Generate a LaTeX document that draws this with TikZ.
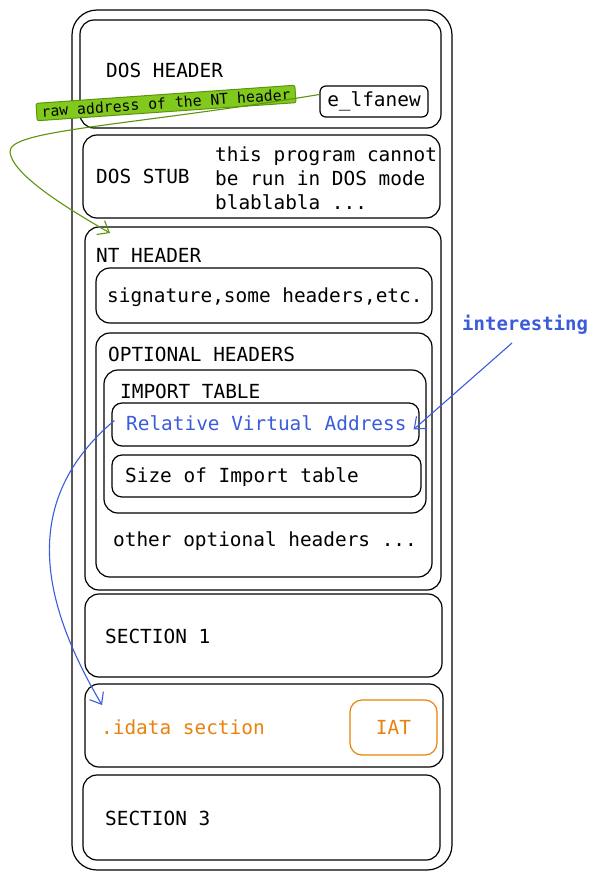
\documentclass[tikz,border=0pt]{standalone}
\usepackage{fontspec}
\setmonofont{DejaVu Sans Mono}
\usetikzlibrary{arrows.meta}
\definecolor{peblue}{HTML}{3B5BDB}
\definecolor{peorange}{HTML}{E8820C}
\definecolor{pegreen}{HTML}{82C91E}
\definecolor{pegreendark}{HTML}{5C940D}
\begin{document}
\begin{tikzpicture}[x=1pt,y=-1pt,
	blk/.style={draw,line width=1.2pt,rounded corners=14pt,inner sep=0pt},
	txt/.style={anchor=west,inner sep=0pt,font=\ttfamily\fontsize{19.4}{24}\selectfont},
	barb/.style={-{Straight Barb[length=10pt,width=16pt]},line width=1.1pt}]
		\useasboundingbox (0,0) rectangle (601,881);
		\node[blk,rounded corners=25pt,minimum width=380,minimum height=860] (file) at (262,440) {};
		\node[blk,minimum width=361,minimum height=108] (dosh) at (260.5,74) {};
		\node[blk,rounded corners=6pt,minimum width=108,minimum height=31] (elf) at (374,101.5) {};
		\node[blk,minimum width=357,minimum height=83] (stub) at (261.5,176.5) {};
		\node[blk,minimum width=356,minimum height=363] (nth) at (263,408.5) {};
		\node[blk,minimum width=336,minimum height=55] (sig) at (264,295.5) {};
		\node[blk,minimum width=336,minimum height=244] (opt) at (264,455) {};
		\node[blk,minimum width=322,minimum height=143] (imp) at (265,441.5) {};
		\node[blk,rounded corners=10pt,minimum width=307,minimum height=43] (rva) at (265.5,424.5) {};
		\node[blk,rounded corners=10pt,minimum width=309,minimum height=42] (size) at (266.5,476) {};
		\node[blk,minimum width=357,minimum height=83] (sec1) at (263.5,635.5) {};
		\node[blk,minimum width=358,minimum height=83] (idata) at (264,725.5) {};
		\node[blk,draw=peorange,rounded corners=12pt,minimum width=87,minimum height=55] (iat) at (393.5,727.5) {};
		\node[blk,minimum width=357,minimum height=85] (sec3) at (261.5,817.5) {};

		\node[txt] (doshtxt) at (106,70) {DOS HEADER};
		\node[txt,anchor=center] (elftxt) at (elf) {e\_lfanew};
		\node[txt] (stubtxt) at (96,176) {DOS STUB};
		\node[txt,align=left] (stubmsg) at (215,178) {this program cannot\\be run in DOS mode\\blablabla ...};
		\node[txt] (nthtxt) at (96,255) {NT HEADER};
		\node[txt] (sigtxt) at (107,297) {signature,some headers,etc.};
		\node[txt] (opttxt) at (108,354) {OPTIONAL HEADERS};
		\node[txt] (imptxt) at (120,391) {IMPORT TABLE};
		\node[txt,text=peblue] (rvatxt) at (126,423) {Relative Virtual Address};
		\node[txt] (sizetxt) at (125,477) {Size of Import table};
		\node[txt] (othtxt) at (113,541) {other optional headers ...};
		\node[txt] (sec1txt) at (105,636) {SECTION 1};
		\node[txt,text=peorange] (idatatxt) at (101,727) {.idata section};
		\node[txt,anchor=center,text=peorange] (iattxt) at (iat) {IAT};
		\node[txt] (sec3txt) at (105,818) {SECTION 3};
		\node[txt,text=peblue,font=\ttfamily\bfseries\fontsize{19}{24}\selectfont] (intr) at (462,325) {interesting};
		\node[draw=pegreendark,fill=pegreen,line width=1pt,rounded corners=2pt,rotate=4,inner xsep=5pt,inner ysep=3pt,font=\ttfamily\fontsize{14.8}{18}\selectfont] (raw) at (166,103) {raw address of the NT header};

		\coordinate (ntin) at (110,233);
		\coordinate (intout) at (512,343);
		\coordinate (idin) at (102,705);
		\draw[barb,color=pegreendark] ([yshift=7pt]elf.west) .. controls (120,127) and (8,130) .. (10,152) .. controls (12,175) and (70,210) .. (ntin);
		\draw[barb,color=peblue] (intout) -- ([xshift=-6pt,yshift=-5pt]rva.east);
		\draw[barb,color=peblue] ([xshift=3pt,yshift=4pt]rva.west) .. controls (20,500) and (40,600) .. (idin);
		\end{tikzpicture}
\end{document}
